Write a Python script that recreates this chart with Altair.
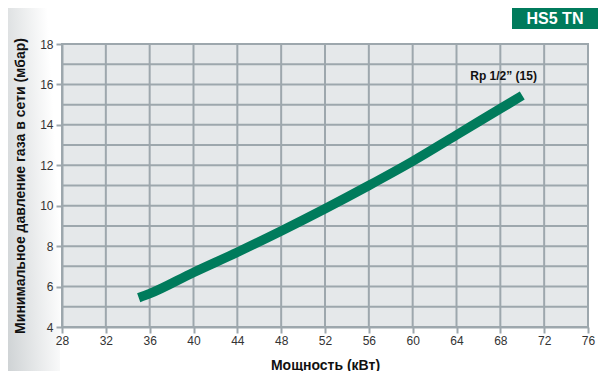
import altair as alt
import pandas as pd

power = [35, 36, 40, 44, 48, 52, 56, 60, 64, 68, 70]
pressure = [5.45, 5.65, 6.7, 7.7, 8.75, 9.85, 11.0, 12.2, 13.5, 14.8, 15.45]
x_ticks = list(range(28, 77, 4))
y_ticks = list(range(4, 19, 2))
y_grid = list(range(4, 19, 1))
series_label = "Rp 1/2\u201d (15)"
label_pos = (68.3, 16.4)
badge = "HS5 TN"

df = pd.DataFrame({"p": power, "mbar": pressure})
GREEN = "#007b5c"
GRID = "#9da7ad"
FONT = "Liberation Sans"

xs = alt.Scale(domain=[28, 76], nice=False, zero=False)
ys = alt.Scale(domain=[4, 18], nice=False, zero=False)

shade = alt.Chart(pd.DataFrame({"a": [0]})).mark_rect(
    color=alt.Gradient(
        gradient="linear",
        stops=[alt.GradientStop(color="#cfd3d5", offset=0),
               alt.GradientStop(color="#ffffff", offset=1)],
        x1=0, x2=1, y1=1, y2=0.6,
    )
).encode(x=alt.value(-54), x2=alt.value(-2), y=alt.value(-36), y2=alt.value(327))

ygrid = alt.Chart(pd.DataFrame({"v": y_grid})).mark_rule(color=GRID, strokeWidth=2).encode(
    y=alt.Y("v:Q", scale=ys)
)
xgrid = alt.Chart(pd.DataFrame({"v": x_ticks})).mark_rule(color=GRID, strokeWidth=2).encode(
    x=alt.X("v:Q", scale=xs)
)

line = alt.Chart(df).mark_line(color=GREEN, strokeWidth=9.5, strokeCap="butt", interpolate="monotone").encode(
    x=alt.X("p:Q", scale=xs, title="Мощность (кВт)",
            axis=alt.Axis(values=x_ticks, grid=False, labelFlush=False, zindex=1)),
    y=alt.Y("mbar:Q", scale=ys, title="Минимальное давление газа в сети (мбар)",
            axis=alt.Axis(values=y_ticks, grid=False, labelFlush=False, zindex=1)),
)

lab = alt.Chart(pd.DataFrame({"x": [label_pos[0]], "y": [label_pos[1]], "t": [series_label]})).mark_text(
    font=FONT, fontSize=12, fontWeight="bold", color="#111"
).encode(x=alt.X("x:Q", scale=xs), y=alt.Y("y:Q", scale=ys), text="t:N")

badge_rect = alt.Chart(pd.DataFrame({"a": [0]})).mark_rect(color=GREEN).encode(
    x=alt.value(450), x2=alt.value(536), y=alt.value(-36), y2=alt.value(-15)
)
badge_text = alt.Chart(pd.DataFrame({"t": [badge]})).mark_text(
    font=FONT, fontSize=16, fontWeight="bold", color="white"
).encode(x=alt.value(493), y=alt.value(-25), text="t:N")

chart = alt.layer(shade, ygrid, xgrid, line, lab, badge_rect, badge_text).properties(
    width=526, height=283,
    padding={"left": 54, "top": 36, "right": 10, "bottom": 44},
    autosize=alt.AutoSizeParams(type="none"),
).configure_view(
    fill="#e5e8ea", stroke=GRID, strokeWidth=2
).configure_axis(
    domainColor=GRID, domainWidth=2,
    tickColor=GRID, tickWidth=2, tickSize=6,
    labelFont=FONT, labelFontSize=12, labelColor="#333",
    titleFont=FONT, titleFontSize=14, titleFontWeight="bold", titleColor="#111",
).configure_axisX(
    labelPadding=2, titlePadding=12
).configure_axisY(
    labelPadding=3, titlePadding=12
)

chart.save("out.html", embed_options={"renderer": "svg", "actions": False})
